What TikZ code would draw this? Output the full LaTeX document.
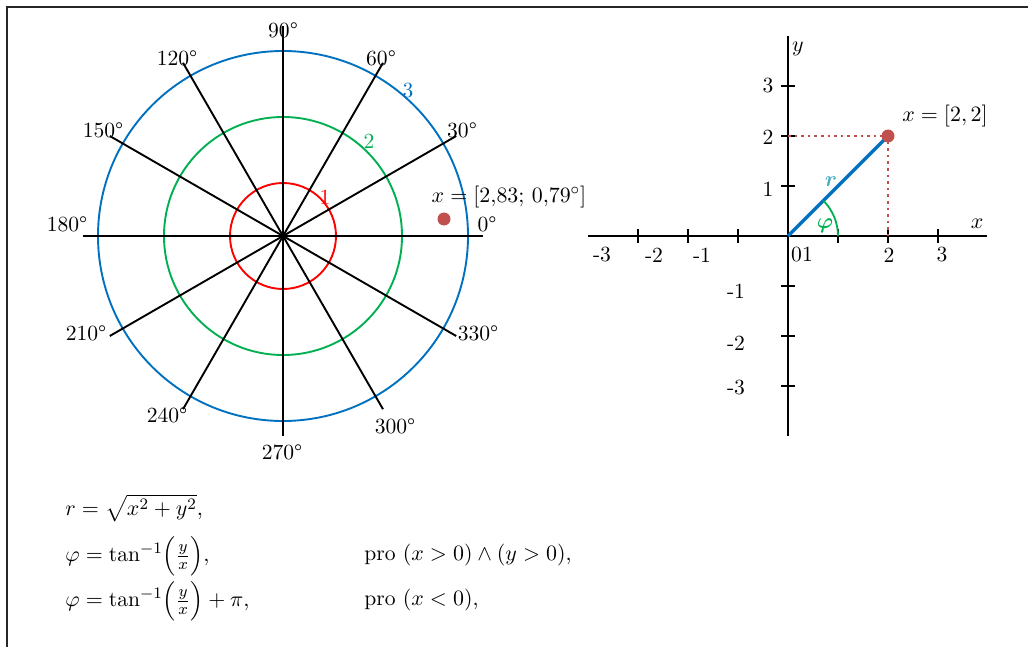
\documentclass[tikz,border=0pt]{standalone}
\usepackage{amsmath}
\usepackage{fontspec}
\usepackage{xcolor}
\usepackage{tikz}

\definecolor{ringred}{HTML}{FF0000}
\definecolor{ringgreen}{HTML}{00B050}
\definecolor{ringblue}{HTML}{0070C0}
\definecolor{pointred}{HTML}{C0504D}
\definecolor{rcyan}{HTML}{4BACC6}

\begin{document}
\begin{tikzpicture}[
  x=0.5pt, y=0.5pt,
  spoke/.style={line width=0.95pt},
  ring/.style={line width=0.95pt},
  axis/.style={line width=1pt},
  lbl/.style={inner sep=1pt, font=\fontsize{10.8}{13}\selectfont},
  formula/.style={lbl, inner sep=0pt, anchor=west},
  guide/.style={dotted, line width=1.3pt, pointred},
  dot/.style={circle, fill=pointred, inner sep=0pt, minimum size=6.5pt}
]
\useasboundingbox (0,0) rectangle (1028,-647);
% Frame (top and left edge)
\draw[line width=1pt, black!85] (1028,-7) -- (7,-7) -- (7,-647);

% Polar grid — centre (283,-236)
\coordinate (pc) at (283,-236);
\draw[ring, ringred]   (pc) circle (53);
\draw[ring, ringgreen] (pc) circle (119);
\draw[ring, ringblue]  (pc) circle (185);
\draw[spoke] (pc) ++(0:200)   -- ++(180:400);
\draw[spoke] (pc) ++(30:200)  -- ++(210:400);
\draw[spoke] (pc) ++(60:200)  -- ++(240:400);
\draw[spoke] (pc) ++(90:210)  -- ++(270:410);
\draw[spoke] (pc) ++(120:200) -- ++(300:400);
\draw[spoke] (pc) ++(150:200) -- ++(330:400);

% Ring radii
\node[lbl, text=ringred]   at (325,-197) (ring1) {1};
\node[lbl, text=ringgreen] at (369,-141) (ring2) {2};
\node[lbl, text=ringblue]  at (408,-91)  (ring3) {3};

% Angle labels
\node[lbl] at (283,-30)  (a90)  {90°};
\node[lbl] at (381,-58)  (a60)  {60°};
\node[lbl] at (462,-130) (a30)  {30°};
\node[lbl] at (487,-224) (a0)   {0°};
\node[lbl] at (478,-333) (a330) {330°};
\node[lbl] at (395,-426) (a300) {300°};
\node[lbl] at (282,-452) (a270) {270°};
\node[lbl] at (167,-415) (a240) {240°};
\node[lbl] at (86,-333)  (a210) {210°};
\node[lbl] at (67,-224)  (a180) {180°};
\node[lbl] at (103,-130) (a150) {150°};
\node[lbl] at (177,-58)  (a120) {120°};

% Polar point
\node[dot] at (444,-219) (ppolar) {};
\node[lbl] at (509,-197) (ppolarlbl) {$x = [2{,}83;\,0{,}79^{\circ}]$};

% Cartesian axes — origin (788,-236), unit 50
\coordinate (co) at (788,-236);
\coordinate (pcart) at (888,-136);
\draw[axis] (588,-236) -- (987,-236);
\draw[axis] (788,-36) -- (788,-436);
\draw[axis] (638,-229) -- ++(0,-14) (688,-229) -- ++(0,-14) (738,-229) -- ++(0,-14)
            (838,-229) -- ++(0,-14) (888,-229) -- ++(0,-14) (938,-229) -- ++(0,-14);
\draw[axis] (781,-86) -- ++(14,0) (781,-136) -- ++(14,0) (781,-186) -- ++(14,0)
            (781,-286) -- ++(14,0) (781,-336) -- ++(14,0) (781,-386) -- ++(14,0);

% Tick labels
\node[lbl] at (602,-255) (xm3) {-3};
\node[lbl] at (654,-255) (xm2) {-2};
\node[lbl] at (702,-255) (xm1) {-1};
\node[lbl] at (802,-255) (x01) {01};
\node[lbl] at (889,-255) (x2)  {2};
\node[lbl] at (942,-255) (x3)  {3};
\node[lbl] at (768,-86)  (y3)  {3};
\node[lbl] at (768,-137) (y2)  {2};
\node[lbl] at (768,-189) (y1)  {1};
\node[lbl] at (736,-291) (ym1) {-1};
\node[lbl] at (736,-343) (ym2) {-2};
\node[lbl] at (736,-388) (ym3) {-3};
\node[lbl] at (798,-49)  (ylbl) {$y$};
\node[lbl] at (977,-224) (xlbl) {$x$};

% Point [2,2], radius r and angle phi
\draw[guide] (co |- pcart) -- (pcart) -- (pcart |- co);
\draw[line width=1.6pt, ringblue] (co) -- (pcart);
\draw[line width=0.9pt, ringgreen] ([shift={(0:50)}]co) arc (0:45:50);
\node[dot] at (pcart) (pcartdot) {};
\node[lbl] at (945,-116) (pcartlbl) {$x = [2, 2]$};
\node[lbl, text=rcyan]     at (831,-182) (rlbl)   {$\boldsymbol{r}$};
\node[lbl, text=ringgreen] at (825,-226) (philbl) {$\boldsymbol{\varphi}$};

% Formulas
\node[formula] at (65,-508) (frm1) {$r = \sqrt{x^2 + y^2},$};
\node[formula] at (65,-556) (frm2) {$\varphi = \tan^{-1}\Bigl(\frac{y}{x}\Bigr),$};
\node[formula] at (65,-601) (frm3) {$\varphi = \tan^{-1}\Bigl(\frac{y}{x}\Bigr) + \pi,$};
\node[formula] at (364,-555) (cond2) {pro $(x > 0) \wedge (y > 0)$,};
\node[formula] at (364,-600) (cond3) {pro $(x < 0)$,};
\end{tikzpicture}
\end{document}
